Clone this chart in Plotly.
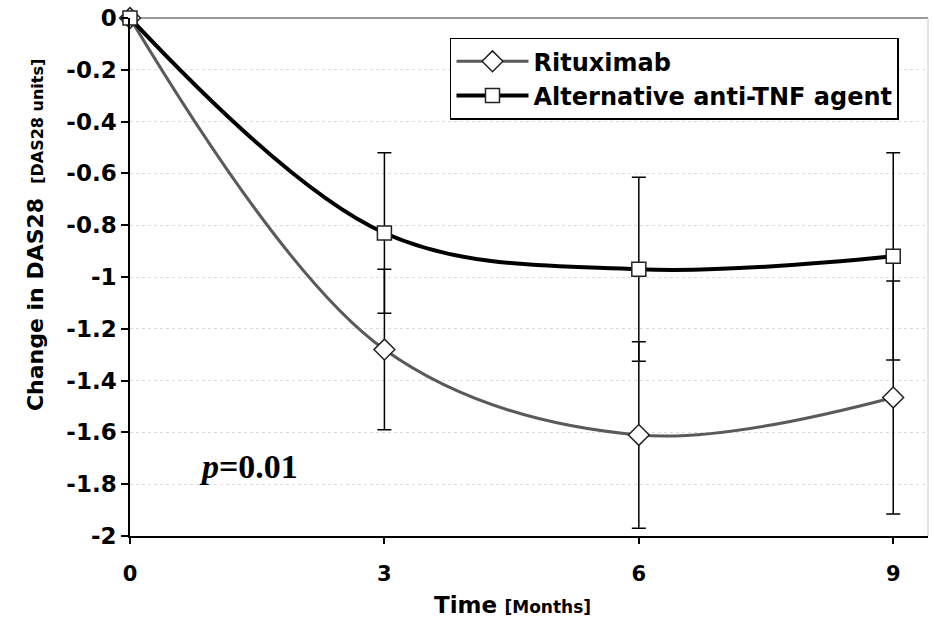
import plotly.graph_objects as go

months = [0, 3, 6, 9]
ritux_mean = [0, -1.28, -1.61, -1.465]
ritux_err = [0, 0.31, 0.36, 0.45]
tnf_mean = [0, -0.83, -0.97, -0.92]
tnf_err = [0, 0.31, 0.355, 0.40]
x_ticks = [0, 3, 6, 9]
y_ticks = [0, -0.2, -0.4, -0.6, -0.8, -1, -1.2, -1.4, -1.6, -1.8, -2]
y_labels = ["0", "-0.2", "-0.4", "-0.6", "-0.8", "-1", "-1.2", "-1.4", "-1.6", "-1.8", "-2"]

FONT = "DejaVu Sans"

fig = go.Figure()
fig.add_trace(go.Scatter(
    x=months, y=ritux_mean, name="Rituximab", mode="lines+markers",
    line=dict(color="#5a5a5a", width=3, shape="spline", smoothing=1),
    marker=dict(symbol="diamond", size=16, color="white", line=dict(color="#222", width=1.5)),
    error_y=dict(type="data", symmetric=True, array=ritux_err, color="black", thickness=1.5, width=7),
    cliponaxis=False,
))
fig.add_trace(go.Scatter(
    x=months, y=tnf_mean, name="Alternative anti-TNF agent", mode="lines+markers",
    line=dict(color="black", width=4, shape="spline", smoothing=1),
    marker=dict(symbol="square", size=14, color="white", line=dict(color="#222", width=1.5)),
    error_y=dict(type="data", symmetric=True, array=tnf_err, color="black", thickness=1.5, width=7),
    cliponaxis=False,
))

fig.add_annotation(x=1.40, y=-1.73, xref="x", yref="y", showarrow=False,
                   text="<b><i>p</i>=0.01</b>",
                   font=dict(family="Liberation Serif", size=34, color="black"))

# axis titles
fig.add_annotation(x=-0.119, y=0.581, xref="paper", yref="paper", showarrow=False,
                   textangle=-90, xanchor="center", yanchor="middle",
                   text="<b>Change in DAS28</b>  <b><span style='font-size:16px'>[DAS28 units]</span></b>",
                   font=dict(family=FONT, size=22, color="black"))
fig.add_annotation(x=0.479, y=-0.133, xref="paper", yref="paper", showarrow=False,
                   xanchor="center", yanchor="middle",
                   text="<b>Time</b> <b><span style='font-size:17px'>[Months]</span></b>",
                   font=dict(family=FONT, size=23, color="black"))

fig.add_shape(type="line", xref="paper", yref="paper", x0=1, x1=1, y0=0, y1=1,
              line=dict(color="#c8c8c8", width=1))

fig.update_layout(
    width=933, height=626,
    margin=dict(l=130, r=5, t=18, b=90),
    paper_bgcolor="white", plot_bgcolor="white",
    font=dict(family=FONT, color="black"),
    showlegend=True,
    legend=dict(x=0.401, y=0.962, xanchor="left", yanchor="top",
                bordercolor="black", borderwidth=1.5, bgcolor="white",
                font=dict(size=24, weight="bold", family=FONT),
                tracegroupgap=0, itemwidth=72),
    xaxis=dict(range=[0, 9.41], tickvals=x_ticks, ticktext=["<b>%d</b>" % v for v in x_ticks],
               showgrid=False, zeroline=False, showline=True, linecolor="black", linewidth=1.5,
               ticks="outside", ticklen=6, tickcolor="black", tickwidth=1.5,
               ticklabelstandoff=12,
               tickfont=dict(size=21, family=FONT, color="black")),
    yaxis=dict(range=[-2, 0], tickvals=y_ticks, ticktext=["<b>%s</b>" % s for s in y_labels],
               showgrid=True, gridcolor="#dddddd", griddash="dot", gridwidth=1,
               zeroline=True, zerolinecolor="#999999", zerolinewidth=1.5,
               showline=True, linecolor="black", linewidth=1.5,
               ticks="outside", ticklen=7, tickcolor="black", tickwidth=1.5,
               tickfont=dict(size=23, family=FONT, color="black")),
)

fig.write_html("out.html")
